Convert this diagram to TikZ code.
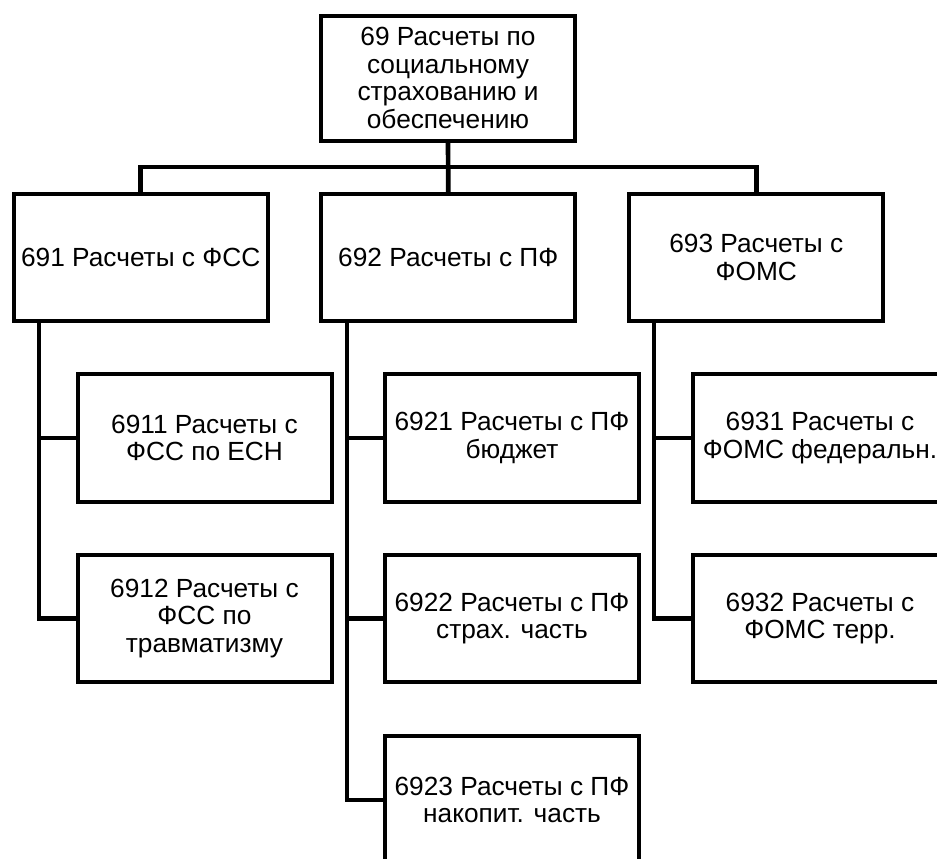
\documentclass[tikz,border=0pt]{standalone}
\usepackage{fontspec}
\setmainfont{Liberation Sans}
\usepackage{tikz}
\usetikzlibrary{arrows}

\begin{document}
\begin{tikzpicture}[x=0.75pt,y=0.75pt,yscale=-1,xscale=1,
  acct/.style={draw,line width=3pt,minimum width=190.5pt,minimum height=95.5pt,inner sep=0.5pt,align=center,font=\fontsize{19.7}{20.9}\selectfont},
  link/.style={line width=3.5pt}]
%set diagram 937 x 858
\path[use as bounding box,clip] (0,0) rectangle (937,858);

%Shape: Rectangle [top]
\node[acct,minimum height=93.75pt] (n69) at (448,78) {69 Расчеты по\\социальному\\страхованию и\\обеспечению};

%Shape: Rectangle [second row]
\node[acct] (n691) at (140.7,257.5) {691 Расчеты с ФСС};
\node[acct] (n692) at (448.3,257.5) {692 Расчеты с ПФ};
\node[acct] (n693) at (756.3,257.5) {693 Расчеты с\\ФОМС};

%Shape: Rectangle [third row]
\node[acct] (n6911) at (204.5,438) {6911 Расчеты с\\ФСС по ЕСН};
\node[acct] (n6912) at (204.5,618.5) {6912 Расчеты с\\ФСС по\\травматизму};
\node[acct] (n6921) at (512,438) {6921 Расчеты с ПФ\\бюджет};
\node[acct] (n6922) at (512,618.5) {6922 Расчеты с ПФ\\страх. часть};
\node[acct] (n6923) at (512,800) {6923 Расчеты с ПФ\\накопит. часть};
\node[acct] (n6931) at (820,438) {6931 Расчеты с\\ФОМС федеральн.};
\node[acct] (n6932) at (820,618.5) {6932 Расчеты с\\ФОМС терр.};

%Straight Lines [top to second row]
\coordinate (bus) at (448,167);
\draw[link] (n69.south) -- (n692.north);
\draw[link] (n691.north) |- (bus) -| (n693.north);

%Straight Lines [second to third row]
\coordinate (s691) at (39,321);
\coordinate (s692) at (347,321);
\coordinate (s693) at (654,321);
\draw[link] (s691) |- (n6911.west);
\draw[link] (s691) |- (n6912.west);
\draw[link] (s692) |- (n6921.west);
\draw[link] (s692) |- (n6922.west);
\draw[link] (s692) |- (n6923.west);
\draw[link] (s693) |- (n6931.west);
\draw[link] (s693) |- (n6932.west);

\end{tikzpicture}
\end{document}
